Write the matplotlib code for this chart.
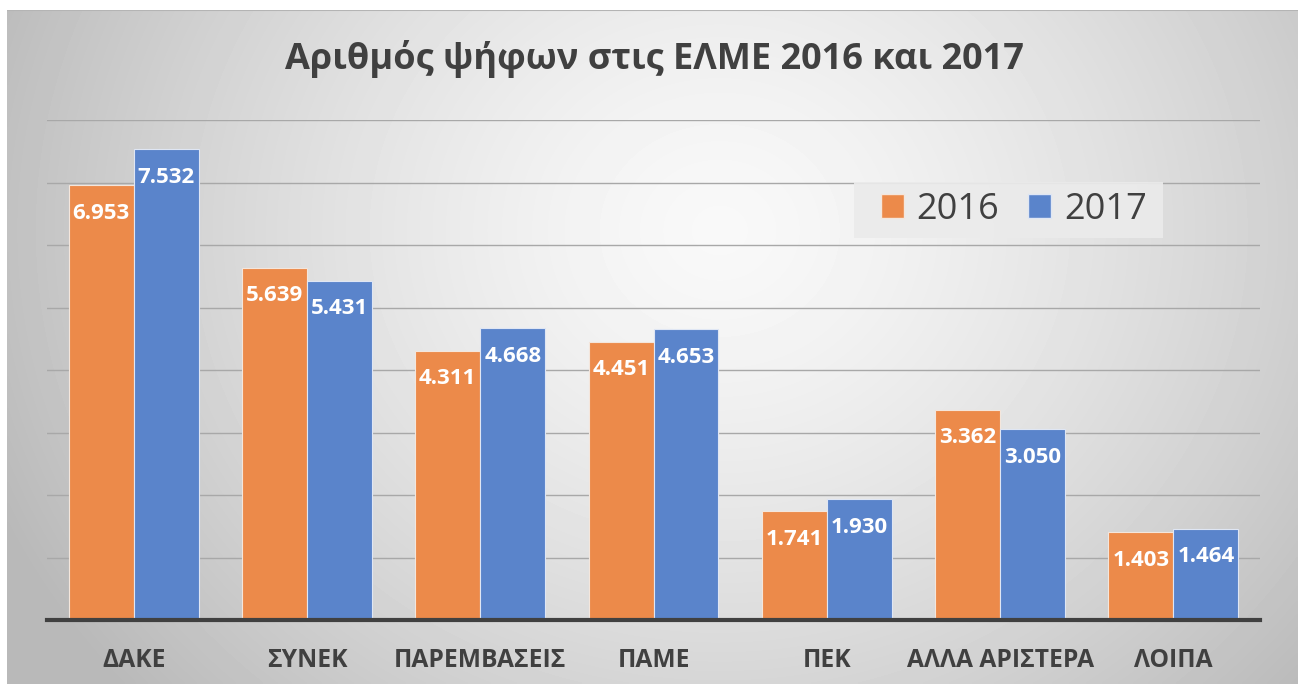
import numpy as np
import matplotlib
matplotlib.use("Agg")
import matplotlib.pyplot as plt
from matplotlib.patches import Patch, Rectangle

categories = ["ΔΑΚΕ", "ΣΥΝΕΚ", "ΠΑΡΕΜΒΑΣΕΙΣ", "ΠΑΜΕ", "ΠΕΚ", "ΑΛΛΑ ΑΡΙΣΤΕΡΑ", "ΛΟΙΠΑ"]
votes_2016 = [6953, 5639, 4311, 4451, 1741, 3362, 1403]
votes_2017 = [7532, 5431, 4668, 4653, 1930, 3050, 1464]
series_labels = ["2016", "2017"]
title = "Αριθμός ψήφων στις ΕΛΜΕ 2016 και 2017"

ORANGE = "#EC8A4A"
BLUE = "#5A84CB"
TXT = "#404040"

W, H = 1301, 684
fig = plt.figure(figsize=(W / 100, H / 100), dpi=100)
fig.patch.set_facecolor("white")

# background panel with radial gradient
bx0, bx1, by0, by1 = 7, 1298, 10, 684
bg = fig.add_axes([bx0 / W, 0, (bx1 - bx0) / W, (by1 - by0) / H])
bg.set_zorder(-1)
xs = np.linspace(bx0, bx1, 400)
ys = np.linspace(by0, by1, 220)
X, Y = np.meshgrid(xs, ys)
cx, cy, rx, ry = 720, 230, 720, 640
r = np.sqrt(((X - cx) / rx) ** 2 + ((Y - cy) / ry) ** 2)
val = np.clip(0.975 - 0.22 * np.clip(r, 0, 1.1) ** 1.4, 0, 1)
bg.imshow(val, cmap="gray", vmin=0, vmax=1, aspect="auto",
          extent=[0, 1, 0, 1], origin="upper", interpolation="bilinear")
bg.plot([0, 1], [1, 1], color="#b4b4b4", lw=1.5, transform=bg.transAxes)
bg.set_axis_off()

# main axes
x0, x1 = 47, 1260
ybase, ytop = 620, 120
ax = fig.add_axes([x0 / W, (H - ybase) / H, (x1 - x0) / W, (ybase - ytop) / H])
ax.set_facecolor("none")
ax.set_xlim(-0.5, len(categories) - 0.5)
ax.set_ylim(0, 8000)

# legend backdrop
ax.add_patch(Rectangle((854 / W, (H - 238) / H), (1163 - 854) / W, (238 - 182) / H,
                       transform=fig.transFigure, facecolor="#ebebeb",
                       edgecolor="none", alpha=0.92, zorder=2, clip_on=False))

x = np.arange(len(categories))
bw = 0.375
b1 = ax.bar(x - bw / 2, votes_2016, bw, color=ORANGE, edgecolor="#f4e6dc", linewidth=0.8, zorder=3)
b2 = ax.bar(x + bw / 2, votes_2017, bw, color=BLUE, edgecolor="#dfe6f4", linewidth=0.8, zorder=3)

for bars, vals in ((b1, votes_2016), (b2, votes_2017)):
    for rect, v in zip(bars, vals):
        ax.annotate(f"{v:,}".replace(",", "."),
                    (rect.get_x() + rect.get_width() / 2, v),
                    xytext=(0, -28), textcoords="offset pixels",
                    ha="center", va="center", color="white",
                    fontsize=16, fontweight="bold", family="Open Sans", zorder=4)

ax.set_yticks(np.arange(1000, 8001, 1000))
ax.yaxis.grid(True, color="#a8a8a8", lw=1)
ax.set_axisbelow(True)
ax.tick_params(axis="y", left=False, labelleft=False)
ax.tick_params(axis="x", bottom=False, pad=17)
ax.set_xticks(x)
ax.set_xticklabels(categories, fontsize=17.7, fontweight="bold", family="Open Sans", color=TXT)
for s in ("top", "right", "left"):
    ax.spines[s].set_visible(False)
ax.spines["bottom"].set_color("#404040")
ax.spines["bottom"].set_linewidth(3)
ax.spines["bottom"].set_zorder(5)

handles = [Patch(facecolor=ORANGE, edgecolor="#f4e6dc"), Patch(facecolor=BLUE, edgecolor="#dfe6f4")]
leg = ax.legend(handles, series_labels, ncol=2, loc="center",
                bbox_to_anchor=((1014 - x0) / (x1 - x0), (ybase - 210) / (ybase - ytop)),
                prop={"family": "Open Sans", "size": 26},
                handlelength=0.64, handleheight=0.64, handletextpad=0.36,
                columnspacing=0.8, borderpad=0.2, borderaxespad=0,
                frameon=False, labelcolor=TXT)
leg.set_zorder(6)

fig.text(654 / W, (H - 59) / H, title, ha="center", va="center",
         fontsize=26, fontweight="bold", family="Open Sans", color=TXT)

fig.savefig("out.png", dpi=100, facecolor="white")
